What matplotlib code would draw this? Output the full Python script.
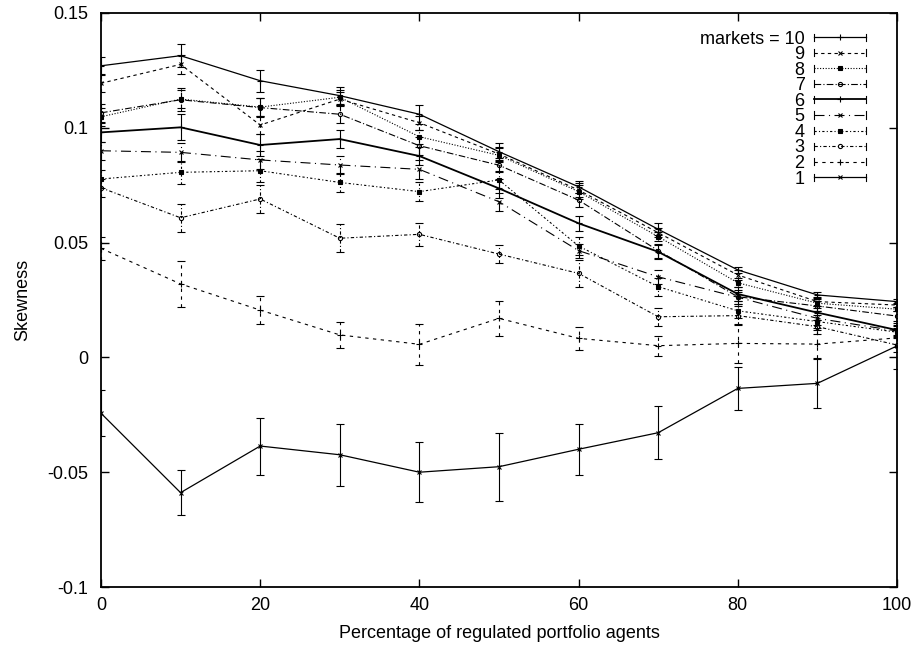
import matplotlib
matplotlib.use('Agg')
import matplotlib.pyplot as plt
from matplotlib.lines import Line2D
from matplotlib.legend_handler import HandlerLine2D

plt.rcParams['font.family'] = ['Liberation Sans', 'DejaVu Sans']
plt.rcParams['font.size'] = 13

# percentage of regulated portfolio agents
pct = [0, 10, 20, 30, 40, 50, 60, 70, 80, 90, 100]

# mean skewness per number of markets
m10 = [0.127, 0.1314, 0.1205, 0.114, 0.1059, 0.0896, 0.0743, 0.0558, 0.0381, 0.0272, 0.0243]
m9 = [0.1194, 0.1276, 0.1012, 0.1125, 0.1022, 0.0886, 0.0729, 0.0543, 0.0359, 0.0243, 0.0228]
m8 = [0.1048, 0.1125, 0.109, 0.1133, 0.0961, 0.088, 0.0722, 0.0526, 0.0325, 0.0236, 0.021]
m7 = [0.1065, 0.1122, 0.1088, 0.1059, 0.0922, 0.0837, 0.0685, 0.0465, 0.0264, 0.0224, 0.018]
m6 = [0.098, 0.1002, 0.0925, 0.0951, 0.0877, 0.0736, 0.0584, 0.046, 0.0276, 0.0195, 0.0119]
m5 = [0.090, 0.0893, 0.086, 0.0838, 0.0819, 0.0678, 0.0465, 0.0351, 0.0262, 0.017, 0.0115]
m4 = [0.0777, 0.0806, 0.0813, 0.0762, 0.0722, 0.0773, 0.0485, 0.0308, 0.0203, 0.0156, 0.011]
m3 = [0.0739, 0.0608, 0.069, 0.0519, 0.0536, 0.045, 0.0366, 0.0177, 0.0182, 0.0134, 0.0054]
m2 = [0.0475, 0.032, 0.0206, 0.0098, 0.0057, 0.017, 0.0083, 0.0051, 0.0061, 0.0058, 0.0085]
m1 = [-0.0243, -0.0589, -0.0386, -0.0424, -0.050, -0.0476, -0.040, -0.0328, -0.0135, -0.0113, 0.005]

# error bar half-widths
e10 = [0.004, 0.005, 0.0047, 0.0039, 0.0041, 0.0036, 0.0025, 0.0026, 0.0014, 0.0015, 0.001]
e9 = [0.004, 0.004, 0.004, 0.003, 0.003, 0.003, 0.003, 0.002, 0.002, 0.002, 0.001]
e8 = [0.004, 0.004, 0.004, 0.003, 0.003, 0.003, 0.003, 0.002, 0.002, 0.002, 0.001]
e7 = [0.004, 0.005, 0.004, 0.004, 0.004, 0.003, 0.003, 0.003, 0.002, 0.002, 0.002]
e6 = [0.004, 0.0057, 0.005, 0.004, 0.004, 0.004, 0.0033, 0.003, 0.003, 0.003, 0.002]
e5 = [0.004, 0.004, 0.004, 0.004, 0.004, 0.004, 0.003, 0.003, 0.003, 0.003, 0.002]
e4 = [0.004, 0.005, 0.005, 0.004, 0.004, 0.004, 0.004, 0.004, 0.003, 0.003, 0.002]
e3 = [0.004, 0.006, 0.006, 0.006, 0.005, 0.004, 0.0058, 0.004, 0.004, 0.003, 0.003]
e2 = [0.005, 0.010, 0.006, 0.0058, 0.009, 0.0075, 0.005, 0.0043, 0.0085, 0.006, 0.004]
e1 = [0.010, 0.0097, 0.0124, 0.0134, 0.013, 0.0148, 0.011, 0.0116, 0.0095, 0.0107, 0.010]

labels = ['markets = 10', '9', '8', '7', '6', '5', '4', '3', '2', '1']
means = [m10, m9, m8, m7, m6, m5, m4, m3, m2, m1]
errs = [e10, e9, e8, e7, e6, e5, e4, e3, e2, e1]

styles = [
    dict(ls='-', marker='+', ms=4, lw=0.9),
    dict(ls=(0, (3, 3)), marker='x', ms=3, lw=0.8),
    dict(ls=(0, (1, 1.5)), marker='s', ms=2.5, lw=0.8),
    dict(ls=(0, (6, 2, 1, 2)), marker='o', ms=3, lw=0.8, mfc='none'),
    dict(ls='-', marker='+', ms=4, lw=1.3),
    dict(ls=(0, (9, 4, 1, 4)), marker='x', ms=3, lw=0.8),
    dict(ls=(0, (2, 2, 1, 2)), marker='s', ms=2.5, lw=0.8),
    dict(ls=(0, (3, 2, 1, 2)), marker='o', ms=3, lw=0.8, mfc='none'),
    dict(ls=(0, (3, 4)), marker='+', ms=4, lw=0.8),
    dict(ls='-', marker='x', ms=3, lw=0.9),
]


class CapHandler(HandlerLine2D):
    # gnuplot style key sample: line with little end bars
    def create_artists(self, legend, orig_handle, xdescent, ydescent,
                       width, height, fontsize, trans):
        arts = super().create_artists(legend, orig_handle, xdescent, ydescent,
                                      width, height, fontsize, trans)
        y = (height - ydescent) / 2
        hh = height * 0.28
        for xx in (-xdescent, width - xdescent):
            arts.append(Line2D([xx, xx], [y - hh, y + hh], color='black',
                               lw=0.8, transform=trans))
        return arts


fig = plt.figure(figsize=(9.17, 6.46), dpi=100)
ax = fig.add_axes([0.1101, 0.0913, 0.8681, 0.8886])

handles = []
for lab, y, e, st in zip(labels, means, errs, styles):
    line, caps, bars = ax.errorbar(pct, y, yerr=e, color='black', ecolor='black',
                                   elinewidth=0.8, capsize=3, capthick=0.8,
                                   markeredgewidth=0.8, **st)
    bars[0].set_linestyle(st['ls'])
    handles.append(Line2D([], [], color='black', markeredgewidth=0.8, **st))

ax.set_xlim(0, 100)
ax.set_ylim(-0.1, 0.15)
ax.set_xticks([0, 20, 40, 60, 80, 100])
ax.set_yticks([-0.1, -0.05, 0, 0.05, 0.1, 0.15])
ax.set_yticklabels(['-0.1', '-0.05', '0', '0.05', '0.1', '0.15'])
ax.tick_params(direction='in', length=6, width=1, top=True, right=True)
ax.tick_params(axis='x', pad=7)
ax.tick_params(axis='y', pad=9)
for sp in ax.spines.values():
    sp.set_linewidth(1.3)

ax.set_xlabel('Percentage of regulated portfolio agents', labelpad=8)
ax.set_ylabel('Skewness', labelpad=12)

ax.legend(handles, labels, loc='upper right', bbox_to_anchor=(0.970, 0.982),
          frameon=False, markerfirst=False, numpoints=1, handlelength=2.85,
          handletextpad=0.55, labelspacing=-0.08, borderaxespad=0,
          handler_map={Line2D: CapHandler()})

plt.savefig('out.png', dpi=100)
